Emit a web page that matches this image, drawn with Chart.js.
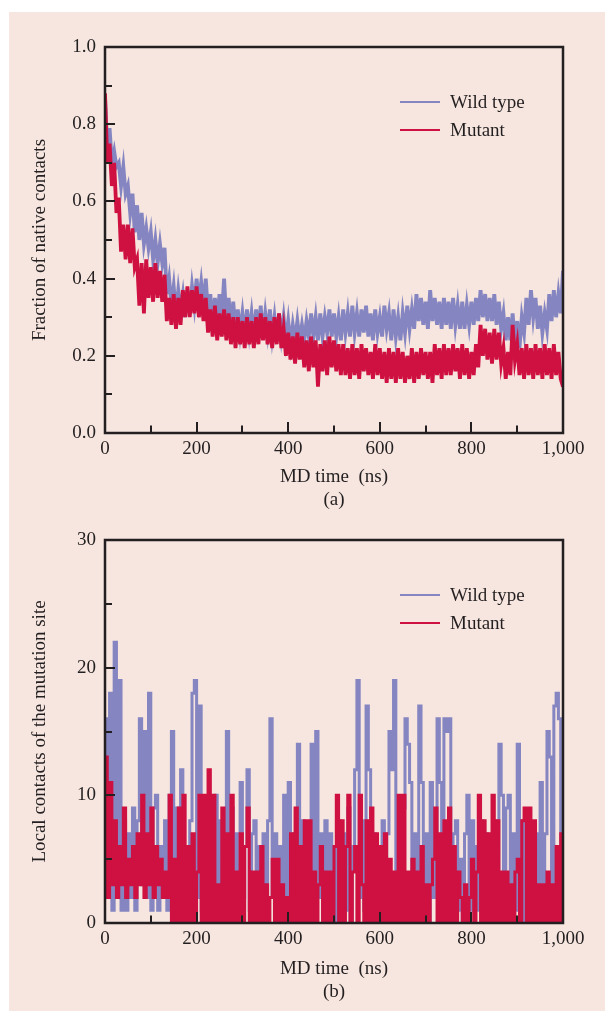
<!DOCTYPE html>
<html>
<head>
<meta charset="utf-8">
<script src="https://cdn.jsdelivr.net/npm/chart.js@4.4.1/dist/chart.umd.min.js"></script>
<style>
  html, body { margin: 0; padding: 0; background: #ffffff; }
  body { width: 605px; height: 1011px; position: relative; overflow: hidden; }
  #panel { position: absolute; left: 9px; top: 12px; width: 596px; height: 999px; background: #F6E6DF; }
  canvas { position: absolute; left: 0; }
  #c1 { top: 0; }
  #c2 { top: 515px; }
</style>
</head>
<body>
<div id="panel"></div>
<canvas id="c1" width="605" height="515"></canvas>
<canvas id="c2" width="605" height="496"></canvas>
<script>
// ---------- data ----------
// sampling grid: every 5 ns from 0 to 1000 ns
const TIME_NS = Array.from({ length: 201 }, (_, i) => i * 5);

const SERIES_NAMES = ['Wild type', 'Mutant'];

// (a) Fraction of native contacts
const FNC_WILD = [
  0.87,0.74,0.79,0.70,0.73,0.69,0.70,0.64,0.69,0.62,
  0.64,0.57,0.62,0.52,0.59,0.50,0.57,0.49,0.53,0.48,
  0.52,0.45,0.50,0.44,0.49,0.44,0.48,0.36,0.40,0.33,
  0.38,0.31,0.37,0.32,0.36,0.30,0.37,0.31,0.38,0.33,
  0.40,0.34,0.39,0.33,0.40,0.31,0.36,0.28,0.35,0.29,
  0.36,0.30,0.40,0.29,0.35,0.27,0.34,0.26,0.32,0.26,
  0.31,0.25,0.32,0.26,0.31,0.25,0.32,0.26,0.33,0.25,
  0.31,0.26,0.32,0.25,0.30,0.24,0.31,0.25,0.30,0.24,
  0.29,0.23,0.28,0.24,0.29,0.24,0.28,0.24,0.29,0.25,
  0.31,0.25,0.30,0.24,0.31,0.25,0.30,0.26,0.32,0.25,
  0.31,0.25,0.30,0.24,0.32,0.26,0.31,0.25,0.33,0.26,
  0.31,0.25,0.32,0.26,0.33,0.25,0.31,0.24,0.32,0.26,
  0.30,0.25,0.33,0.27,0.31,0.24,0.32,0.25,0.30,0.24,
  0.31,0.26,0.33,0.27,0.32,0.27,0.36,0.29,0.35,0.28,
  0.34,0.27,0.37,0.29,0.35,0.28,0.34,0.27,0.35,0.28,
  0.34,0.27,0.35,0.28,0.33,0.27,0.34,0.27,0.33,0.28,
  0.34,0.28,0.35,0.29,0.37,0.30,0.36,0.29,0.35,0.29,
  0.36,0.28,0.34,0.27,0.31,0.24,0.30,0.24,0.31,0.23,
  0.29,0.22,0.30,0.26,0.35,0.28,0.37,0.30,0.35,0.27,
  0.33,0.26,0.31,0.27,0.36,0.29,0.37,0.30,0.36,0.31,
  0.42
];
const FNC_MUTANT = [
  0.88,0.70,0.75,0.64,0.70,0.57,0.61,0.47,0.54,0.45,
  0.54,0.44,0.53,0.43,0.45,0.33,0.44,0.31,0.45,0.35,
  0.43,0.34,0.44,0.35,0.42,0.34,0.41,0.29,0.35,0.28,
  0.36,0.27,0.35,0.28,0.37,0.30,0.38,0.30,0.37,0.31,
  0.38,0.30,0.36,0.29,0.35,0.26,0.32,0.25,0.33,0.24,
  0.31,0.25,0.32,0.24,0.31,0.23,0.30,0.22,0.30,0.23,
  0.29,0.22,0.30,0.23,0.29,0.22,0.30,0.23,0.31,0.24,
  0.30,0.23,0.29,0.22,0.30,0.23,0.31,0.22,0.27,0.20,
  0.26,0.19,0.25,0.18,0.26,0.19,0.25,0.17,0.24,0.16,
  0.25,0.17,0.24,0.12,0.23,0.16,0.24,0.15,0.25,0.17,
  0.24,0.16,0.23,0.15,0.23,0.15,0.22,0.14,0.23,0.15,
  0.22,0.14,0.23,0.16,0.22,0.15,0.21,0.14,0.23,0.15,
  0.22,0.14,0.21,0.13,0.22,0.14,0.21,0.13,0.22,0.14,
  0.21,0.13,0.20,0.14,0.22,0.13,0.21,0.14,0.22,0.15,
  0.21,0.14,0.21,0.13,0.23,0.15,0.22,0.14,0.23,0.15,
  0.22,0.15,0.23,0.16,0.22,0.14,0.23,0.15,0.22,0.14,
  0.21,0.15,0.23,0.17,0.28,0.20,0.27,0.19,0.26,0.18,
  0.27,0.19,0.26,0.18,0.22,0.14,0.21,0.15,0.28,0.19,
  0.23,0.15,0.22,0.14,0.23,0.15,0.22,0.14,0.23,0.15,
  0.22,0.14,0.23,0.15,0.22,0.14,0.23,0.15,0.21,0.14,
  0.12
];

// (b) Local contacts of the mutation site
const LOC_WILD = [
  16,2,18,1,22,3,19,1,8,1,
  7,2,9,1,8,16,3,15,2,18,
  1,9,10,1,6,2,8,1,10,15,
  2,9,1,12,4,6,1,8,18,19,
  2,17,1,9,0,7,1,6,10,2,
  8,1,7,15,2,9,1,7,0,11,
  2,6,12,1,7,8,0,6,2,7,
  1,8,16,2,7,1,6,0,10,2,
  11,1,7,2,14,1,8,0,7,2,
  14,1,15,2,7,0,8,1,7,2,
  6,0,8,2,7,1,9,0,6,12,
  19,2,8,1,17,12,2,7,1,6,
  0,8,2,7,15,12,19,1,8,2,
  9,16,14,11,2,7,1,17,11,2,
  7,0,11,2,6,16,11,1,16,15,
  16,2,7,8,1,5,0,7,10,1,
  8,2,6,1,8,0,7,2,6,1,
  8,2,14,10,1,9,10,2,7,1,
  14,2,8,0,7,1,6,2,7,1,
  11,2,7,15,13,1,17,18,16,2,
  4
];
const LOC_MUTANT = [
  13,2,11,3,8,2,6,3,9,2,
  5,3,6,2,7,3,10,2,7,3,
  9,2,6,3,5,2,4,2,10,0,
  5,0,9,0,10,0,6,0,7,0,
  4,10,0,10,0,12,0,10,0,3,
  0,9,0,7,0,10,0,4,0,7,
  0,6,9,0,4,0,4,0,6,0,
  3,0,2,5,0,5,0,3,0,2,
  0,7,0,9,0,6,0,8,0,8,
  0,4,0,3,6,0,4,0,4,0,
  6,10,0,8,0,6,10,0,4,6,
  0,10,3,0,8,0,9,0,7,0,
  6,0,7,0,5,0,4,0,10,0,
  10,0,4,0,5,0,4,0,6,0,
  3,0,3,5,9,0,7,0,8,0,
  9,0,6,0,4,2,0,3,0,2,
  5,0,4,10,0,8,0,7,0,10,
  0,8,0,4,0,4,0,3,0,4,
  5,0,8,9,0,9,0,8,0,3,
  0,3,0,4,0,3,0,6,0,7,
  6
];

// axis ticks and labels
const X_TICKS = [0, 200, 400, 600, 800, 1000];
const X_TICK_LABELS = ['0', '200', '400', '600', '800', '1,000'];
const X_MINOR = [100, 300, 500, 700, 900];
const A_Y_TICKS = [0, 0.2, 0.4, 0.6, 0.8, 1.0];
const A_Y_TICK_LABELS = ['0.0', '0.2', '0.4', '0.6', '0.8', '1.0'];
const A_Y_MINOR = [0.1, 0.3, 0.5, 0.7, 0.9];
const B_Y_TICKS = [0, 10, 20, 30];
const B_Y_TICK_LABELS = ['0', '10', '20', '30'];
const B_Y_MINOR = [5, 15, 25];

// ---------- styles ----------
const INK = '#231F20';
const WILD_COLOR = '#8585C2';
const MUTANT_COLOR = '#CE1141';
const FONT = 'Liberation Serif';
const FONT_SIZE = 19;

Chart.defaults.font.family = FONT;
Chart.defaults.font.size = FONT_SIZE;
Chart.defaults.color = INK;

const frameTicks = {
  id: 'frameTicks',
  afterDatasetsDraw(chart, args, opts) {
    const { ctx, chartArea: a, scales: { x, y } } = chart;
    ctx.save();
    ctx.strokeStyle = INK;
    ctx.lineCap = 'butt';
    ctx.lineWidth = 2;
    const xt = (vals, len) => vals.forEach(v => {
      const px = Math.round(x.getPixelForValue(v));
      if (px <= a.left + 1 || px >= a.right - 1) return;
      ctx.beginPath(); ctx.moveTo(px, a.bottom); ctx.lineTo(px, a.bottom - len); ctx.stroke();
    });
    const yt = (vals, len) => vals.forEach(v => {
      const py = Math.round(y.getPixelForValue(v));
      if (py <= a.top + 1 || py >= a.bottom - 1) return;
      ctx.beginPath(); ctx.moveTo(a.left, py); ctx.lineTo(a.left + len, py); ctx.stroke();
    });
    xt(opts.xMajor, 11); xt(opts.xMinor, 7.5);
    yt(opts.yMajor, 10); yt(opts.yMinor, 7);
    ctx.lineWidth = 2.5;
    ctx.strokeRect(a.left, a.top, a.right - a.left, a.bottom - a.top);
    ctx.restore();
  }
};

const insideLegend = {
  id: 'insideLegend',
  afterDraw(chart, args, opts) {
    const { ctx, chartArea: a } = chart;
    ctx.save();
    ctx.font = FONT_SIZE + 'px "' + FONT + '"';
    ctx.textBaseline = 'middle';
    ctx.textAlign = 'left';
    chart.data.datasets.forEach((ds, i) => {
      const yy = a.top + opts.top + i * 28;
      const x0 = a.right - 163;
      ctx.strokeStyle = ds.borderColor;
      ctx.lineWidth = 2.2;
      ctx.beginPath(); ctx.moveTo(x0, yy); ctx.lineTo(x0 + 40, yy); ctx.stroke();
      ctx.fillStyle = INK;
      ctx.fillText(ds.label, x0 + 50, yy + 1);
    });
    ctx.restore();
  }
};

function makeChart(id, cfg) {
  const toXY = arr => arr.map((v, i) => ({ x: TIME_NS[i], y: v }));
  return new Chart(document.getElementById(id), {
    type: 'line',
    data: {
      datasets: [
        { label: SERIES_NAMES[0], data: toXY(cfg.wild), borderColor: WILD_COLOR, borderWidth: cfg.bw,
          pointRadius: 0, tension: 0, stepped: cfg.stepped, borderJoinStyle: 'miter', order: 1 },
        { label: SERIES_NAMES[1], data: toXY(cfg.mutant), borderColor: MUTANT_COLOR, borderWidth: cfg.bw,
          pointRadius: 0, tension: 0, stepped: cfg.stepped, borderJoinStyle: 'miter', order: 0 }
      ]
    },
    options: {
      responsive: false,
      animation: false,
      devicePixelRatio: 1,
      layout: { padding: { top: cfg.top, right: 42, left: 0, bottom: 0 } },
      plugins: {
        legend: { display: false },
        tooltip: { enabled: false },
        frameTicks: { xMajor: X_TICKS, xMinor: X_MINOR, yMajor: cfg.yTicks, yMinor: cfg.yMinor },
        insideLegend: { top: 55 }
      },
      scales: {
        x: {
          type: 'linear', min: 0, max: 1000,
          grid: { display: false, drawTicks: false },
          border: { display: false },
          afterBuildTicks: s => { s.ticks = X_TICKS.map(v => ({ value: v })); },
          ticks: { padding: 5, maxRotation: 0, autoSkip: false,
                   callback: (v) => X_TICK_LABELS[X_TICKS.indexOf(v)] },
          afterFit: s => { s.height = cfg.xh; },
          title: { display: true, text: ['MD time  (ns)', cfg.tag], padding: { top: 0, bottom: cfg.titleBottom },
                   font: { size: FONT_SIZE, lineHeight: 1.2 } }
        },
        y: {
          min: cfg.yTicks[0], max: cfg.yTicks[cfg.yTicks.length - 1],
          grid: { display: false, drawTicks: false },
          border: { display: false },
          afterBuildTicks: s => { s.ticks = cfg.yTicks.map(v => ({ value: v })); },
          ticks: { padding: 9, autoSkip: false,
                   callback: (v) => cfg.yLabels[cfg.yTicks.indexOf(v)] },
          afterFit: s => { s.width = 105; },
          title: { display: true, text: cfg.yTitle, padding: { top: 28.6, bottom: 0 },
                   font: { size: FONT_SIZE, lineHeight: 1.2 } }
        }
      }
    },
    plugins: [frameTicks, insideLegend]
  });
}

makeChart('c1', {
  wild: FNC_WILD, mutant: FNC_MUTANT, bw: 3.8, stepped: false,
  top: 47, xh: 82, titleBottom: 3.6, tag: '(a)',
  yTicks: A_Y_TICKS, yLabels: A_Y_TICK_LABELS, yMinor: A_Y_MINOR,
  yTitle: 'Fraction of native contacts'
});
makeChart('c2', {
  wild: LOC_WILD, mutant: LOC_MUTANT, bw: 3, stepped: true,
  top: 25, xh: 88, titleBottom: 7.6, tag: '(b)',
  yTicks: B_Y_TICKS, yLabels: B_Y_TICK_LABELS, yMinor: B_Y_MINOR,
  yTitle: 'Local contacts of the mutation site'
});
</script>
</body>
</html>
